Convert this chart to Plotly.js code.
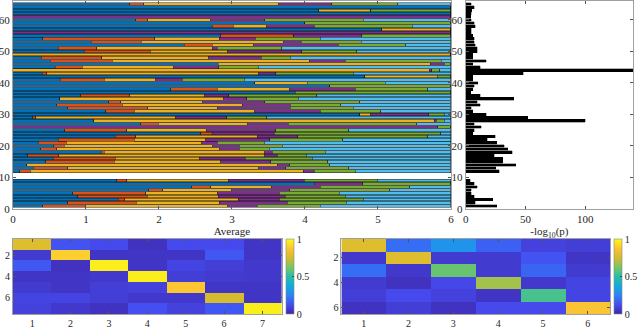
<!DOCTYPE html>
<html>
<head>
<meta charset="utf-8">
<script src="https://cdn.plot.ly/plotly-3.0.1.min.js"></script>
<style>
  html, body { margin: 0; padding: 0; background: #fff; }
  #chart { width: 640px; height: 329px; }
</style>
</head>
<body>
<div id="chart"></div>
<script>
// stacked bar widths per row (rows 1..65, rows 10 and 11 are empty)
var blueVals = [0.41, 0.75, 1.44, 0.89, 0.82, 1.86, 2.45, 4.13, 1.42, null,
  null, 0.09, 0.28, 0.19, 0.45, 0.55, 0.2, 1.21, 0.38, 0.56,
  0.35, 0.62, 1.4, 2.57, 0.71, 0, 1.75, 1.11, 0.27, 4.75,
  1.27, 0.75, 0.6, 1.31, 0.64, 0.93, 3.87, 2.16, 4.34, 3.31,
  0.65, 4.82, 0.4, 0, 0.58, 2.81, 0.51, 0.39, 0, 0.98,
  0.62, 2.35, 1.07, 0.41, 2.85, 0, 5.05, 2.73, 4.0, 1.68,
  0, 6, 4.19, 6, 1.6];
var orangeVals = [0.59, 0.94, 0.09, 0.95, 1.0, 0.19, 0.26, 0, 0.14, null,
  null, 0.15, 0.47, 0, 0.94, 0.85, 0.43, 0.04, 0.22, 0.14,
  0.38, 1.04, 0.28, 0.15, 0.85, 0, 0.24, 0, 0.04, 0,
  0.39, 1.1, 0.9, 0.17, 0, 0.67, 0, 0.64, 0, 0,
  0.6, 0, 0.06, 0, 0.37, 0, 0.85, 0.83, 0, 0.9,
  0.53, 0.38, 0.69, 1.53, 1.0, 0, 0, 0.29, 0, 0.17,
  0, 0, 0, 0, 0.19];
var yellowVals = [1.94, 1.14, 1.56, 0.97, 0.98, 0.95, 0.83, 0, 1.39, null,
  null, 3.74, 2.62, 3.43, 1.46, 1.16, 2.82, 2.2, 2.23, 2.04,
  1.86, 0.98, 1.67, 0.02, 1.09, 0, 1.23, 4.66, 1.92, 0.15,
  1.65, 0.95, 1.64, 1.12, 2.25, 1.03, 0, 0.99, 0, 0.72,
  0.71, 0.99, 2.91, 5.71, 1.25, 2.91, 2.7, 1.46, 6, 1.06,
  1.58, 0.57, 1.95, 0.89, 0, 0, 0.95, 0.46, 0, 0.86,
  0, 0, 0.71, 0, 1.85];
var purpleVals = [0.41, 0.93, 0.56, 0.92, 0.85, 0.79, 0.67, 0.66, 1.04, null,
  null, 0.15, 0.37, 0.17, 0.68, 0.62, 0.17, 0.1, 0.27, 0.36,
  0.21, 0.88, 0.55, 0.84, 0.95, 5.82, 0.55, 0.03, 0.7, 0.8,
  0.9, 1.0, 0.66, 0.85, 0.31, 0.33, 0, 0.9, 0, 0,
  0.36, 0, 0.23, 0.03, 0.62, 0.19, 0.49, 0.72, 0, 1.02,
  0.07, 1.16, 0.24, 0.49, 0.93, 6, 0, 0.65, 0, 0.74,
  6, 0, 0, 0, 0.73];
var greenVals = [0.86, 0.81, 1.15, 0.82, 0.82, 1.37, 1.23, 1.21, 1.0, null,
  null, 0.56, 0.86, 0.55, 0.78, 0.92, 0.4, 0.73, 0.41, 0.59,
  0.64, 1.0, 1.78, 2.28, 1.0, 0.18, 1.76, 0.11, 0.55, 0.21,
  0.83, 0.86, 0.69, 1.3, 0.71, 1.2, 2.13, 0.99, 1.66, 1.07,
  0.85, 0.19, 1.06, 0.11, 0.54, 0.09, 1.32, 0.4, 0, 0.75,
  0.88, 0.92, 0.82, 0.89, 1.22, 0, 0, 1.34, 2.0, 1.35,
  0, 0, 1.1, 0, 0.9];
var lightBlueVals = [1.79, 1.43, 1.2, 1.45, 1.53, 0.84, 0.56, 0, 1.01, null,
  null, 1.31, 1.4, 1.66, 1.69, 1.9, 1.98, 1.72, 2.49, 2.31,
  2.56, 1.48, 0.32, 0.14, 1.4, 0, 0.47, 0.09, 2.52, 0.09,
  0.96, 1.34, 1.51, 1.25, 2.09, 1.84, 0, 0.32, 0, 0.9,
  2.83, 0, 1.34, 0.15, 2.64, 0, 0.13, 2.2, 0, 1.29,
  2.32, 0.62, 1.23, 1.79, 0, 0, 0, 0.53, 0, 1.2,
  0, 0, 0, 0, 0.73];

// -log10(p) per row
var logP = [26, 8, 22.5, 7, 4.5, 4.5, 9.5, 7, 3.6, null,
  null, 28, 25, 42, 31, 31, 24, 39, 35, 32,
  26, 18, 24.5, 6, 7, 13, 7, 100, 52, 17,
  6, 4.5, 12, 9.5, 40, 12, 4, 6, 7, 10,
  6, 6, 48, 150, 12, 6, 17, 6, 6, 9.5,
  9.5, 8, 7, 7, 6, 4.5, 4.5, 8, 7, 4.5,
  4, 4.5, 5, 7, 4.5];

// heatmaps
var avgMatrix = [
  [0.78, 0.14, 0.12, 0.04, 0.12, 0.12, 0.05],
  [0.07, 0.90, 0.05, 0.05, 0.05, 0.15, 0.05],
  [0.15, 0.04, 0.97, 0.05, 0.10, 0.08, 0.06],
  [0.05, 0.05, 0.06, 0.97, 0.08, 0.07, 0.06],
  [0.07, 0.05, 0.08, 0.09, 0.88, 0.05, 0.05],
  [0.10, 0.10, 0.08, 0.06, 0.06, 0.75, 0.05],
  [0.09, 0.06, 0.04, 0.13, 0.09, 0.15, 0.97]
];
var logPMatrix = [
  [0.78, 0.20, 0.30, 0.17, 0.09, 0.08],
  [0.06, 0.78, 0.07, 0.07, 0.14, 0.05],
  [0.20, 0.06, 0.60, 0.07, 0.18, 0.07],
  [0.07, 0.04, 0.11, 0.68, 0.06, 0.10],
  [0.08, 0.12, 0.09, 0.05, 0.55, 0.10],
  [0.04, 0.08, 0.04, 0.12, 0.12, 0.87]
];
var avgIdx = [1, 2, 3, 4, 5, 6, 7];
var logPIdx = [1, 2, 3, 4, 5, 6];

var rows = [];
for (var i = 1; i <= 65; i++) rows.push(i);

var parula = [
  [0, 'rgb(62,38,168)'],
  [0.125, 'rgb(70,76,240)'],
  [0.25, 'rgb(42,132,246)'],
  [0.375, 'rgb(16,172,218)'],
  [0.5, 'rgb(38,190,168)'],
  [0.625, 'rgb(122,198,98)'],
  [0.75, 'rgb(212,188,46)'],
  [0.875, 'rgb(252,196,52)'],
  [1, 'rgb(249,251,20)']
];

var font = {family: 'Liberation Serif, Times New Roman, serif', size: 11, color: '#262626'};
var smallFont = {family: 'Liberation Serif, Times New Roman, serif', size: 10, color: '#262626'};
var edge = {color: '#1a1a1a', width: 0.5};

function seg(vals, col) {
  return {type: 'bar', orientation: 'h', y: rows, x: vals, width: 0.85,
    marker: {color: col, line: edge}, xaxis: 'x', yaxis: 'y', hoverinfo: 'x+y'};
}

function cbar(xpx) {
  return {x: xpx / 640, xanchor: 'left', y: 1 - 276.5 / 329, yanchor: 'middle',
    lenmode: 'pixels', len: 75, thickness: 8, thicknessmode: 'pixels',
    tickvals: [0, 0.5, 1], ticktext: ['0', '0.5', '1'], ticks: 'inside', ticklen: 2,
    outlinewidth: 0.6, outlinecolor: '#888', tickfont: smallFont, xpad: 0, ypad: 0};
}

var data = [
  seg(blueVals, '#0072BD'),
  seg(orangeVals, '#D95319'),
  seg(yellowVals, '#EDB120'),
  seg(purpleVals, '#7E2F8E'),
  seg(greenVals, '#77AC30'),
  seg(lightBlueVals, '#4DBEEE'),
  {type: 'bar', orientation: 'h', y: rows, x: logP, width: 0.85,
    marker: {color: '#000', line: {color: '#000', width: 0.3}}, xaxis: 'x2', yaxis: 'y2'},
  {type: 'heatmap', z: avgMatrix, x: avgIdx, y: avgIdx, xaxis: 'x3', yaxis: 'y3',
    colorscale: parula, zmin: 0, zmax: 1, colorbar: cbar(287)},
  {type: 'heatmap', z: logPMatrix, x: logPIdx, y: logPIdx, xaxis: 'x4', yaxis: 'y4',
    colorscale: parula, zmin: 0, zmax: 1, colorbar: cbar(617)}
];

var axBase = {showline: true, linecolor: '#a0a0a0', linewidth: 1, mirror: 'ticks',
  ticks: 'inside', ticklen: 3, tickcolor: '#555', showgrid: false, zeroline: false,
  tickfont: font};

function ax(extra) { return Object.assign({}, axBase, extra); }

var heatTop = 1 - 239 / 329, heatBottom = 1 - 314 / 329;

var layout = {
  width: 640, height: 329,
  margin: {l: 0, r: 0, t: 0, b: 0},
  paper_bgcolor: '#fff', plot_bgcolor: '#fff',
  barmode: 'stack', bargap: 0,
  showlegend: false,
  font: font,
  xaxis: ax({domain: [13 / 640, 453 / 640], range: [0, 6], dtick: 1, anchor: 'y',
    title: {text: 'Average', font: font, standoff: 1}}),
  yaxis: ax({domain: [1 - 209 / 329, 1 - 1 / 329], range: [0, 66], tickvals: [0, 10, 20, 30, 40, 50, 60], anchor: 'x'}),
  xaxis2: ax({domain: [468 / 640, 636 / 640], range: [0, 140], tickvals: [0, 50, 100], anchor: 'y2',
    title: {text: '-log<sub>10</sub>(p)', font: font, standoff: 1}}),
  yaxis2: ax({domain: [1 - 209 / 329, 1 - 1 / 329], range: [0, 66], tickvals: [0, 10, 20, 30, 40, 50, 60], anchor: 'x2'}),
  xaxis3: ax({domain: [13 / 640, 283 / 640], range: [0.5, 7.5], tickvals: avgIdx, anchor: 'y3', tickfont: smallFont}),
  yaxis3: ax({domain: [heatBottom, heatTop], range: [7.5, 0.5], tickvals: [2, 4, 6], anchor: 'x3', tickfont: smallFont}),
  xaxis4: ax({domain: [343 / 640, 613 / 640], range: [0.5, 6.5], tickvals: logPIdx, anchor: 'y4', tickfont: smallFont}),
  yaxis4: ax({domain: [heatBottom, heatTop], range: [6.5, 0.5], tickvals: [2, 4, 6], anchor: 'x4', tickfont: smallFont})
};

Plotly.newPlot('chart', data, layout, {displayModeBar: false, staticPlot: true});
</script>
</body>
</html>
